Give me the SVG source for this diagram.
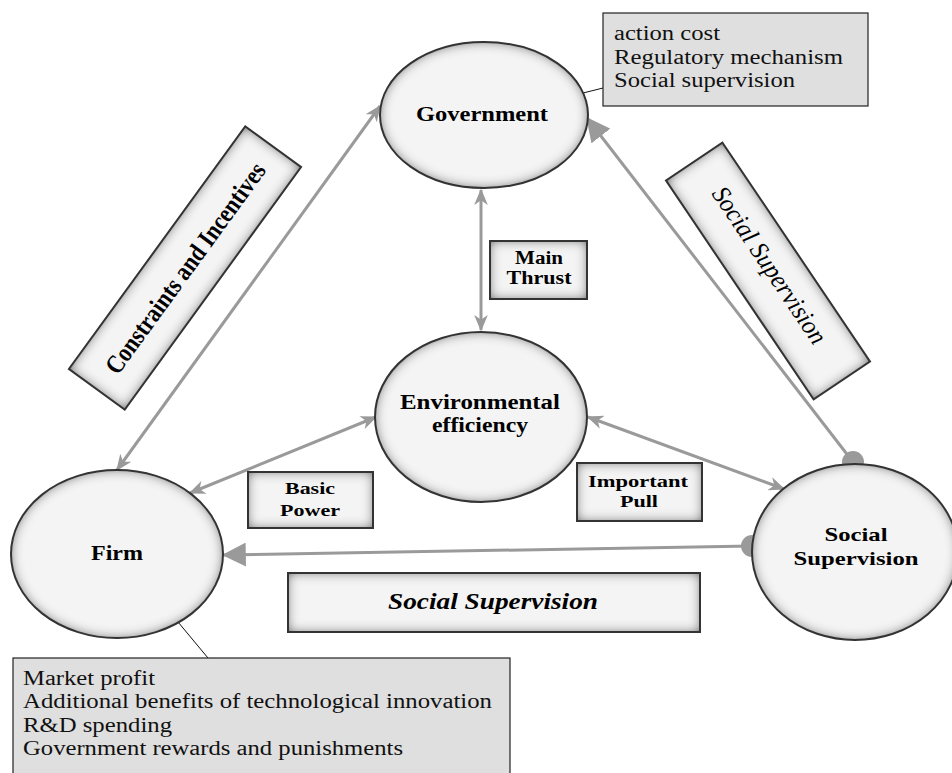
<svg xmlns="http://www.w3.org/2000/svg" width="952" height="773" viewBox="0 0 952 773">
<style>
.node{fill:#f4f4f4;filter:url(#inset)}
.edge{fill:none;stroke:#333;stroke-width:2}
.lbl{font-family:"Liberation Serif","Times New Roman",serif;font-weight:bold;fill:#000;text-anchor:middle}
.note{font-family:"Liberation Serif","Times New Roman",serif;font-size:20px;fill:#111}
.notebox{fill:#dfdfdf;stroke:#222;stroke-width:1.2}
.conn{fill:none;stroke:#9a9a9a;stroke-width:3}
.thin{fill:none;stroke:#111;stroke-width:1}
</style>
<defs>
<filter id="inset" x="-5%" y="-5%" width="110%" height="110%">
<feGaussianBlur in="SourceAlpha" stdDeviation="6" result="b"/>
<feComposite in="SourceAlpha" in2="b" operator="out" result="edge"/>
<feFlood flood-color="#1a1a1a"/>
<feComposite in2="edge" operator="in" result="shadow"/>
<feMerge><feMergeNode in="SourceGraphic"/><feMergeNode in="shadow"/></feMerge>
</filter>
<marker id="dbl" viewBox="0 0 12 10" refX="11" refY="5" markerWidth="5.5" markerHeight="4.6" orient="auto-start-reverse" markerUnits="strokeWidth">
<path d="M0,0 L12,5 L0,10 L3.5,5 z" fill="#9a9a9a"/>
</marker>
<marker id="tri" viewBox="0 0 10 10" refX="9.5" refY="5" markerWidth="8" markerHeight="8" orient="auto" markerUnits="strokeWidth">
<path d="M0,0 L10,5 L0,10 z" fill="#9a9a9a"/>
</marker>
</defs>
<rect width="952" height="773" fill="#fff"/>

<g id="connectors">
<line class="conn" x1="481" y1="190" x2="481" y2="330" marker-start="url(#dbl)" marker-end="url(#dbl)"/>
<line class="conn" x1="117" y1="470" x2="380" y2="106" marker-start="url(#dbl)" marker-end="url(#dbl)"/>
<line class="conn" x1="190" y1="493" x2="376" y2="417" marker-start="url(#dbl)" marker-end="url(#dbl)"/>
<line class="conn" x1="588" y1="417" x2="784" y2="489" marker-start="url(#dbl)" marker-end="url(#dbl)"/>
<line class="conn" x1="853" y1="462" x2="587" y2="118" marker-end="url(#tri)"/>
<circle cx="853" cy="462" r="11" fill="#9a9a9a"/>
<line class="conn" x1="752" y1="546" x2="223" y2="555" marker-end="url(#tri)"/>
<circle cx="752" cy="546" r="11" fill="#9a9a9a"/>
<line class="thin" x1="583" y1="93" x2="603" y2="88"/>
<line class="thin" x1="178" y1="622" x2="208" y2="658"/>
</g>

<g id="government">
<ellipse class="node" cx="484" cy="115" rx="104" ry="73"/>
<ellipse class="edge" cx="484" cy="115" rx="104" ry="73"/>
<text class="lbl" x="482" y="121" font-size="21" textLength="132" lengthAdjust="spacingAndGlyphs">Government</text>
</g>

<g id="environmental-efficiency">
<ellipse class="node" cx="481" cy="417" rx="106" ry="85"/>
<ellipse class="edge" cx="481" cy="417" rx="106" ry="85"/>
<text class="lbl" x="480" y="409" font-size="20" textLength="160" lengthAdjust="spacingAndGlyphs">Environmental</text>
<text class="lbl" x="480" y="432" font-size="20" textLength="96" lengthAdjust="spacingAndGlyphs">efficiency</text>
</g>

<g id="firm">
<ellipse class="node" cx="117" cy="554" rx="106" ry="84"/>
<ellipse class="edge" cx="117" cy="554" rx="106" ry="84"/>
<text class="lbl" x="117" y="560" font-size="20" textLength="52" lengthAdjust="spacingAndGlyphs">Firm</text>
</g>

<g id="social-supervision">
<ellipse class="node" cx="855" cy="552" rx="103" ry="88"/>
<ellipse class="edge" cx="855" cy="552" rx="103" ry="88"/>
<text class="lbl" x="856" y="541" font-size="19" textLength="63" lengthAdjust="spacingAndGlyphs">Social</text>
<text class="lbl" x="856" y="565" font-size="19" textLength="125" lengthAdjust="spacingAndGlyphs">Supervision</text>
</g>

<g id="label-main-thrust">
<rect class="node" x="490" y="241" width="97" height="58"/>
<rect class="edge" x="490" y="241" width="97" height="58"/>
<text class="lbl" x="539" y="264" font-size="18" textLength="48" lengthAdjust="spacingAndGlyphs">Main</text>
<text class="lbl" x="539" y="284" font-size="18" textLength="65" lengthAdjust="spacingAndGlyphs">Thrust</text>
</g>

<g id="label-basic-power">
<rect class="node" x="248" y="472" width="125" height="56"/>
<rect class="edge" x="248" y="472" width="125" height="56"/>
<text class="lbl" x="310" y="494" font-size="17.5" textLength="50" lengthAdjust="spacingAndGlyphs">Basic</text>
<text class="lbl" x="310" y="516" font-size="17.5" textLength="60" lengthAdjust="spacingAndGlyphs">Power</text>
</g>

<g id="label-important-pull">
<rect class="node" x="577" y="463" width="125" height="58"/>
<rect class="edge" x="577" y="463" width="125" height="58"/>
<text class="lbl" x="638" y="487" font-size="17.5" textLength="100" lengthAdjust="spacingAndGlyphs">Important</text>
<text class="lbl" x="639" y="507" font-size="17.5" textLength="38" lengthAdjust="spacingAndGlyphs">Pull</text>
</g>

<g id="label-social-supervision-bottom">
<rect class="node" x="288" y="573" width="412" height="59"/>
<rect class="edge" x="288" y="573" width="412" height="59"/>
<text class="lbl" x="493" y="609" font-size="23" font-style="italic" textLength="210" lengthAdjust="spacingAndGlyphs">Social Supervision</text>
</g>

<g id="label-constraints" transform="translate(185 268) rotate(-54)">
<rect class="node" x="-150" y="-34.5" width="300" height="69"/>
<rect class="edge" x="-150" y="-34.5" width="300" height="69"/>
<text class="lbl" x="0" y="9" font-size="26" textLength="254" lengthAdjust="spacingAndGlyphs">Constraints and Incentives</text>
</g>

<g id="label-social-supervision-right" transform="translate(768 271) rotate(56)">
<rect class="node" x="-132" y="-34" width="264" height="68"/>
<rect class="edge" x="-132" y="-34" width="264" height="68"/>
<text x="-4" y="4" font-family="Liberation Serif, Times New Roman, serif" font-size="26" font-style="italic" text-anchor="middle" textLength="184" lengthAdjust="spacingAndGlyphs">Social Supervision</text>
</g>

<g id="note-government">
<rect class="notebox" x="603" y="13" width="265" height="93"/>
<text class="note" x="614" y="40" textLength="106" lengthAdjust="spacingAndGlyphs">action cost</text>
<text class="note" x="614" y="64" textLength="229" lengthAdjust="spacingAndGlyphs">Regulatory mechanism</text>
<text class="note" x="614" y="87" textLength="181" lengthAdjust="spacingAndGlyphs">Social supervision</text>
</g>

<g id="note-firm">
<rect class="notebox" x="13" y="658" width="497" height="125"/>
<text class="note" x="23" y="685" textLength="132" lengthAdjust="spacingAndGlyphs">Market profit</text>
<text class="note" x="23" y="708" textLength="469" lengthAdjust="spacingAndGlyphs">Additional benefits of technological innovation</text>
<text class="note" x="23" y="732" textLength="149" lengthAdjust="spacingAndGlyphs">R&amp;D spending</text>
<text class="note" x="23" y="755" textLength="380" lengthAdjust="spacingAndGlyphs">Government rewards and punishments</text>
</g>
</svg>
